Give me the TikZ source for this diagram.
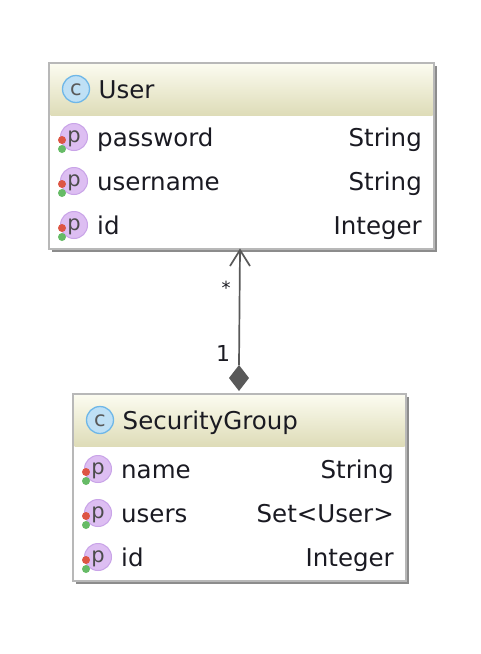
\documentclass[tikz,border=0pt]{standalone}
\usepackage{fontspec}
\setmainfont{DejaVu Sans}
\usetikzlibrary{arrows.meta,calc}
\definecolor{headtop}{HTML}{FBFBEF}
\definecolor{headbot}{HTML}{DEDCB8}
\definecolor{classblue}{HTML}{BFE0F5}
\definecolor{classedge}{HTML}{6FB7E8}
\definecolor{propfill}{HTML}{DDBEF2}
\definecolor{propedge}{HTML}{C9A4E8}
\definecolor{dotred}{HTML}{DD5544}
\definecolor{dotgreen}{HTML}{66BB66}
\definecolor{txtcol}{HTML}{1A1A22}
\tikzset{
  umltext/.style={inner sep=0pt,text=txtcol,font=\fontsize{24.5}{30}\selectfont,anchor=base west},
  umltype/.style={umltext,anchor=base east},
  iconletter/.style={inner sep=0pt,text=#1,font=\fontsize{21}{24}\selectfont,anchor=base},
  assoc/.style={draw=black!65,line width=1.7pt}
}
% #1 name, #2 left, #3 top, #4 right, #5 header bottom, #6 bottom, #7 title
\newcommand\umlbox[7]{%
    % shadow, then the body and the header
    \fill[black!45] (#2+3,#3+3) rectangle (#4+3,#6+3);
    \draw[black!28,line width=2.5pt,fill=white] (#2,#3) rectangle (#4,#6);
    \shade[top color=headtop,bottom color=headbot] (#2+1.5,#3+1.5) rectangle (#4-1.5,#5);
    \coordinate (#1top) at ({(#2+#4)/2},#3);
    \filldraw[fill=classblue,draw=classedge,line width=1.3pt] (#2+27,#3+26) circle (13.5);
    \node[iconletter=black!65] (#1icon) at (#2+27,#3+32) {c};
    \node[umltext] (#1title) at (#2+49.5,#3+35.5) {#7};
}
% #1 name, #2 icon x, #3 base line, #4 right end, #5 property, #6 type
\newcommand\umlrow[6]{%
    \filldraw[fill=propfill,draw=propedge,line width=1pt] (#2+15,#3-9) circle (13.5);
    \fill[dotred] (#2+3,#3-6) circle (4);
    \fill[dotgreen] (#2+3,#3+3) circle (4);
    \node[iconletter=black!70] (#1icon) at (#2+15,#3-4) {p};
    \node[umltext] (#1name) at (#2+38,#3+0.5) {#5};
    \node[umltype] (#1type) at (#4,#3+0.5) {#6};
}
\begin{document}
\begin{tikzpicture}[x=1pt,y=-1pt]
    \useasboundingbox (0,0) rectangle (480,654);
    \umlbox{user}{49}{63}{434}{115}{249}{User}
    \umlrow{password}{59}{146}{422}{password}{String}
    \umlrow{username}{59}{190}{422}{username}{String}
    \umlrow{userid}{59}{234}{422}{id}{Integer}

    \umlbox{group}{73}{394}{406}{446}{581}{SecurityGroup}
    \umlrow{name}{83}{478}{394}{name}{String}
    \umlrow{users}{83}{522}{394}{users}{Set<User>}
    \umlrow{groupid}{83}{566}{394}{id}{Integer}

    % the composition between both classes
    \coordinate (diamondtop) at (239,365);
    \coordinate (arrowtip) at (240,250);
    \fill[black!65] (diamondtop) -- ++(10,13) -- ++(-10,13) -- ++(-10,-13) -- cycle;
    \draw[assoc] (diamondtop) -- (arrowtip);
    \draw[assoc] ($(arrowtip)+(-10,16)$) -- (arrowtip) -- ($(arrowtip)+(10,16)$);
    \node[inner sep=0pt,text=txtcol,font=\fontsize{18}{20}\selectfont] (manylabel) at (226,288) {*};
    \node[inner sep=0pt,text=txtcol,font=\fontsize{22}{24}\selectfont] (onelabel) at (223,353) {1};
\end{tikzpicture}
\end{document}
